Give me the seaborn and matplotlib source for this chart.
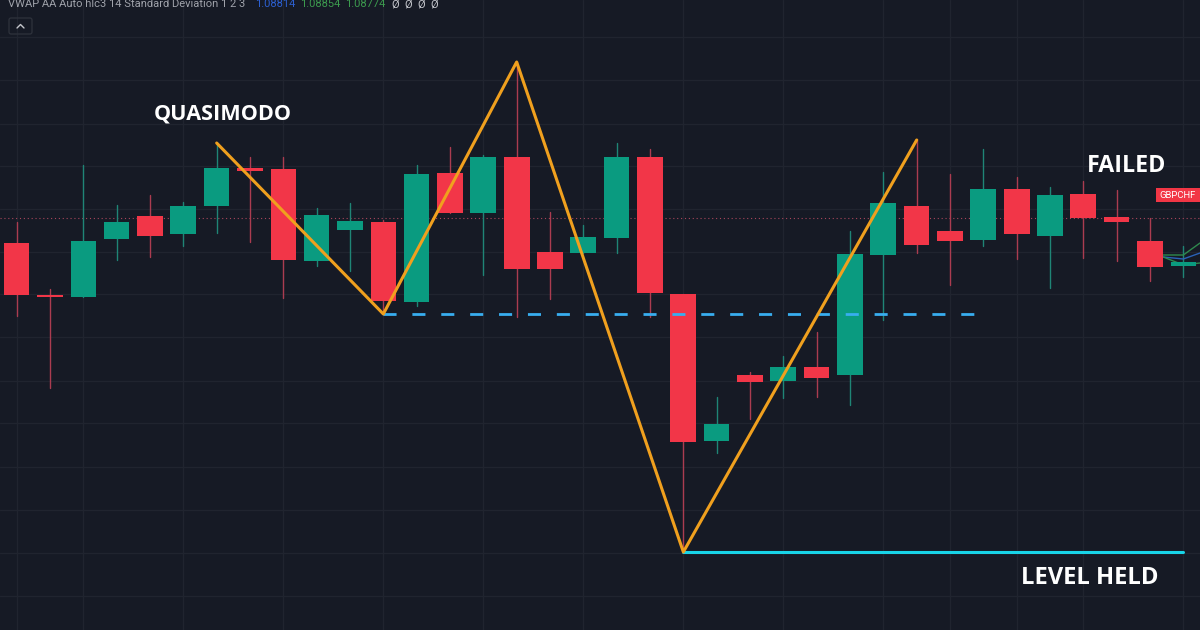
import numpy as np
import pandas as pd
import matplotlib
matplotlib.use('Agg')
import matplotlib.pyplot as plt
from matplotlib.patches import FancyBboxPatch, Rectangle
import seaborn as sns

# Candle levels (no price scale is shown, so
# levels are in chart units counted downwards from the top edge)
body_top = [243, 295, 241, 222, 216, 206, 168, 168, 169, 215, 221, 222,
            174, 173, 157, 157, 252, 237, 157, 157, 294, 424, 375, 367,
            367, 254, 203, 206, 231, 189, 189, 195, 194, 217, 241, 262]
body_bottom = [295, 297, 297, 239, 236, 234, 206, 171, 260, 261, 230, 301,
               302, 213, 213, 269, 269, 253, 238, 293, 442, 441, 382, 381,
               378, 375, 255, 245, 241, 240, 234, 236, 218, 222, 267, 266]
wick_top = [222, 289, 165, 205, 195, 202, 143, 157, 157, 208, 203, 220,
            165, 147, 155, 62, 212, 225, 143, 149, 294, 397, 372, 356,
            332, 231, 172, 139, 174, 149, 177, 187, 181, 190, 218, 246]
wick_bottom = [316, 388, 297, 260, 257, 246, 233, 242, 298, 266, 271, 314,
               306, 213, 275, 317, 299, 253, 253, 317, 552, 453, 419, 398,
               397, 405, 320, 253, 285, 246, 259, 288, 258, 261, 281, 277]
direction = list('dduuduudduud' 'ududduud' 'd' 'ududuu' 'ddu' 'dudddu')

# Grid positions (candle number / level)
grid_candles = [0, 2, 5, 8, 11, 14, 17, 20, 23, 26, 28, 30, 32, 35]
grid_levels = [37, 80, 124, 166, 209, 252, 294, 337, 381, 423, 467, 510, 553, 596]

# Drawn annotations
zigzag_candles = [6, 11, 15, 20, 27]
zigzag_levels = [143, 314, 62, 552, 140]
neckline_candles = [11, 28.8]
neckline_levels = [314, 314]
held_candles = [20, 35]
held_levels = [552, 552]
last_price = 218

# VWAP bands poking out at the right edge
band_candles = [34.4, 35, 35.5]
band_upper = [255, 255, 243]
band_mid = [257, 259, 253]
band_lower = [257, 265, 263]

BG = '#161a25'
RED = '#f23648'
GREEN = '#0a9b80'
ORANGE = '#f0a01e'

sns.set_theme(style='dark', rc={'axes.facecolor': BG, 'figure.facecolor': BG})
plt.rcParams['font.family'] = ['Open Sans', 'DejaVu Sans']

fig = plt.figure(figsize=(12, 6.3), dpi=100)
ax = fig.add_axes([0, 0, 1, 1])

df = pd.DataFrame({'candle': np.arange(len(body_top)), 'top': body_top,
                   'bottom': body_bottom, 'wick_top': wick_top,
                   'wick_bottom': wick_bottom, 'direction': direction})
df['height'] = df['bottom'] - df['top']

# Grid
ax.set_xticks(grid_candles)
ax.set_yticks(grid_levels)
ax.grid(True, color='#20242f', linewidth=1.0)
ax.tick_params(length=0, labelbottom=False, labelleft=False)
ax.set_axisbelow(True)
for spine in ax.spines.values():
    spine.set_visible(False)

ax.axhline(last_price, color='#a8465c', linewidth=0.8, linestyle=(0, (1, 2.5)), zorder=1)

# Wicks
wicks = df.melt(id_vars=['candle', 'direction'], value_vars=['wick_top', 'wick_bottom'],
                value_name='level')
sns.lineplot(data=wicks, x='candle', y='level', hue='direction', units='candle',
             estimator=None, palette={'u': '#1f8576', 'd': '#ab3c50'}, legend=False,
             linewidth=1.0, ax=ax, zorder=2)

# Bodies
for key, color in [('u', GREEN), ('d', RED)]:
    part = df[df['direction'] == key]
    sns.barplot(data=part, x='candle', y='height', bottom=part['top'].values,
                native_scale=True, width=0.77, color=color, saturation=1,
                errorbar=None, linewidth=0, ax=ax, zorder=3)

# Bands
for values, color in [(band_upper, '#2f8a4e'), (band_mid, '#2a62b8'), (band_lower, '#2f8a4e')]:
    sns.lineplot(x=band_candles, y=values, color=color, linewidth=1.0, ax=ax, zorder=2.5)

# Pattern lines
sns.lineplot(x=neckline_candles, y=neckline_levels, color='#38aef0', linewidth=2.0,
             linestyle=(0, (4.7, 5.7)), ax=ax, zorder=5)
sns.lineplot(x=held_candles, y=held_levels, color='#18d4e8', linewidth=2.2, ax=ax, zorder=5)
sns.lineplot(x=zigzag_candles, y=zigzag_levels, color=ORANGE, linewidth=2.2, sort=False,
             ax=ax, zorder=6)

ax.set_xlim(-0.5, 35.5)
ax.set_ylim(630, 0)
ax.set_xlabel('')
ax.set_ylabel('')

# Overlay in screen pixels for the chart chrome and labels
ui = fig.add_axes([0, 0, 1, 1], facecolor='none')
ui.set_xlim(0, 1200)
ui.set_ylim(630, 0)
ui.axis('off')

ui.text(223, 114, 'QUASIMODO', color='white', fontsize=15.6, fontweight='bold', ha='center', va='center')
ui.text(1127, 166, 'FAILED', color='white', fontsize=16.7, fontweight='bold', ha='center', va='center')
ui.text(1089.5, 578, 'LEVEL HELD', color='white', fontsize=17.1, fontweight='bold', ha='center', va='center')

ui.add_patch(Rectangle((1156, 188), 44, 14, facecolor='#f23645', edgecolor='none'))
ui.text(1178, 195, 'GBPCHF', color='white', fontsize=6.8, family='Roboto', ha='center', va='center')

header = [(8, 'VWAP AA Auto hlc3 14 Standard Deviation 1 2 3', '#a0a3ab'),
          (255, '1.08814', '#2c5fd0'), (300, '1.08854', '#3c9a4e'), (345, '1.08774', '#3c9a4e'),
          (391, 'Ø', '#c4c6cc'), (404, 'Ø', '#c4c6cc'), (417, 'Ø', '#c4c6cc'), (430, 'Ø', '#c4c6cc')]
for x, label, color in header:
    ui.text(x, 4, label, color=color, fontsize=8.0, family='Roboto', ha='left', va='center')

ui.add_patch(FancyBboxPatch((9, 18), 23, 16, boxstyle='round,pad=0,rounding_size=2',
                            facecolor='none', edgecolor='#2e323c', linewidth=0.9))
ui.plot([17, 20.5, 24], [28, 24.5, 28], color='#c4c6cc', linewidth=1.0)

plt.savefig('out.png', dpi=100, facecolor=BG)
plt.close()
